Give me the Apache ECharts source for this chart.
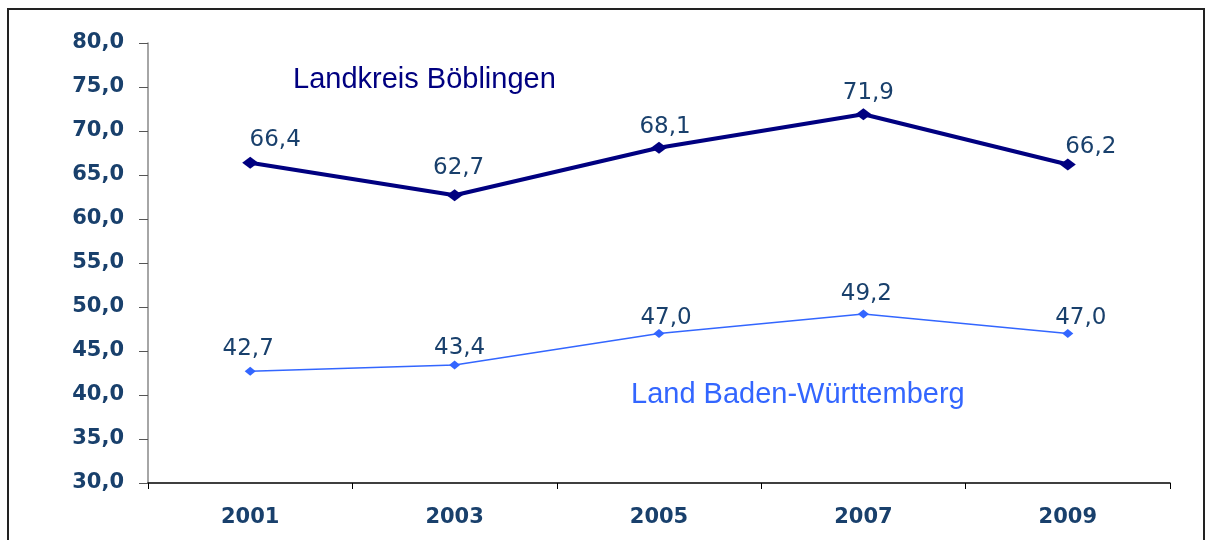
<!DOCTYPE html>
<html>
<head>
<meta charset="utf-8">
<script src="https://cdn.jsdelivr.net/npm/echarts@6/dist/echarts.min.js"></script>
<style>
  html, body { margin: 0; padding: 0; background: #fff; }
  #frame {
    position: absolute; left: 7px; top: 8px; width: 1198px; height: 540px;
    border: 2px solid #222; border-bottom: none; box-sizing: border-box;
  }
  #chart { position: absolute; left: 0; top: 0; width: 1207px; height: 540px; }
</style>
</head>
<body>
<div id="frame"></div>
<div id="chart"></div>
<script>
  // Jahre und Werte
  const years = ["2001", "2003", "2005", "2007", "2009"];
  const boeblingen = [66.4, 62.7, 68.1, 71.9, 66.2];
  const landBW = [42.7, 43.4, 47.0, 49.2, 47.0];
  // Label-Versatz je Punkt [x, y], relativ zur Punktmitte
  const boeOffsets = [[25, -23], [4, -27], [6, -21], [5, -21], [23, -17]];
  const bwOffsets = [[-2, -22], [5, -17], [7, -15], [3, -20], [13, -15]];

  const labelColor = "#19406c";
  const fmt = (v) => v.toFixed(1).replace(".", ",");

  const chart = echarts.init(document.getElementById("chart"));

  const makeData = (vals, offs) =>
    vals.map((v, i) => ({
      value: v,
      label: { offset: offs[i] },
    }));

  const valueLabel = {
    show: true,
    position: "inside",
    align: "center",
    verticalAlign: "middle",
    color: labelColor,
    fontFamily: "DejaVu Sans",
    fontSize: 23,
    formatter: (p) => fmt(p.value),
  };

  const option = {
    animation: false,
    grid: { left: 148, right: 37, top: 43, bottom: 57 },
    xAxis: {
      type: "category",
      data: years,
      boundaryGap: true,
      axisLine: { lineStyle: { color: "#000", width: 1.5 } },
      axisTick: { show: true, length: 6, lineStyle: { color: "#000" } },
      axisLabel: {
        color: labelColor,
        fontFamily: "DejaVu Sans",
        fontWeight: "bold",
        fontSize: 21,
        margin: 24,
      },
    },
    yAxis: {
      type: "value",
      min: 30,
      max: 80,
      interval: 5,
      axisLine: { show: true, lineStyle: { color: "#888", width: 1.5 } },
      axisTick: { show: true, length: 9, lineStyle: { color: "#555" } },
      splitLine: { show: false },
      axisLabel: {
        color: labelColor,
        fontFamily: "DejaVu Sans",
        fontWeight: "bold",
        fontSize: 21,
        margin: 24,
        formatter: fmt,
      },
    },
    series: [
      {
        name: "Landkreis Böblingen",
        type: "line",
        data: makeData(boeblingen, boeOffsets),
        symbol: "diamond",
        symbolSize: [16, 12],
        lineStyle: { color: "#000080", width: 4 },
        itemStyle: { color: "#000080" },
        label: valueLabel,
        z: 3,
      },
      {
        name: "Land Baden-Württemberg",
        type: "line",
        data: makeData(landBW, bwOffsets),
        symbol: "diamond",
        symbolSize: [11, 9],
        lineStyle: { color: "#3366ff", width: 1.5 },
        itemStyle: { color: "#3366ff" },
        label: valueLabel,
        z: 2,
      },
    ],
    graphic: [
      {
        type: "text",
        x: 293,
        y: 80,
        style: {
          text: "Landkreis Böblingen",
          fill: "#000080",
          font: "29px 'Liberation Sans'",
          verticalAlign: "middle",
        },
      },
      {
        type: "text",
        x: 631,
        y: 395,
        style: {
          text: "Land Baden-Württemberg",
          fill: "#3366ff",
          font: "29px 'Liberation Sans'",
          verticalAlign: "middle",
        },
      },
    ],
  };

  chart.setOption(option);
  window.addEventListener("resize", () => chart.resize());
</script>
</body>
</html>
